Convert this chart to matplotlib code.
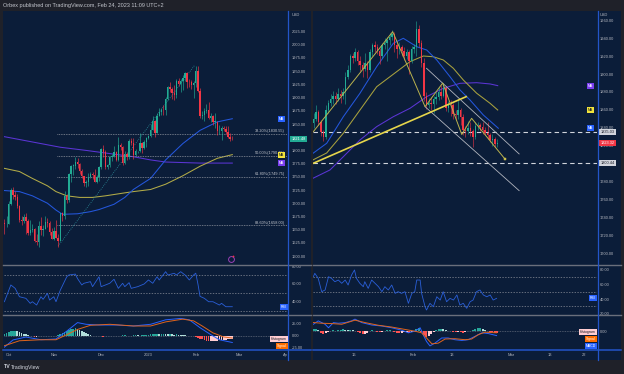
import numpy as np
import matplotlib
matplotlib.use('Agg')
import matplotlib.pyplot as plt
from matplotlib.transforms import blended_transform_factory, offset_copy
from matplotlib.patches import Rectangle
from matplotlib.lines import Line2D

plt.rcParams['font.family'] = ['Liberation Sans', 'DejaVu Sans']

# ============================ DATA ============================
# ---- Left panel: XAUUSD daily (bar index 0 = 3 Oct 2022, -2 = 29 Sep 2022)
left_open_first = 1662
left_close = [1660, 1661,
              1699, 1725, 1716, 1712, 1695, 1668, 1666, 1673, 1666, 1644, 1650, 1652, 1629, 1627, 1657, 1649, 1652, 1665, 1663, 1645, 1633,
              1647, 1635, 1629, 1681, 1676, 1713, 1706, 1755, 1771, 1771, 1778, 1774, 1761, 1751, 1738, 1740, 1749, 1755, 1754, 1741, 1749, 1768,
              1803, 1797, 1768, 1772, 1788, 1789, 1797, 1781, 1810, 1807, 1777, 1793, 1787, 1817, 1814, 1792, 1798, 1798, 1814, 1804, 1815, 1824,
              1828, 1839, 1855, 1833, 1865, 1872, 1877, 1876, 1897, 1920, 1916, 1908, 1904, 1932, 1926, 1931, 1937, 1946, 1930, 1929, 1923, 1928,
              1951, 1912, 1865, 1867, 1874, 1876, 1861, 1865, 1854, 1854, 1836, 1836, 1842, 1841, 1834, 1825, 1822, 1821.48]
left_high = [1671, 1676,
             1705, 1729, 1731, 1723, 1718, 1697, 1675, 1679, 1682, 1671, 1668, 1661, 1653, 1641, 1667, 1674, 1658, 1675, 1672, 1666, 1654,
             1655, 1669, 1642, 1682, 1684, 1723, 1717, 1757, 1773, 1774, 1787, 1786, 1776, 1764, 1752, 1744, 1757, 1759, 1760, 1764, 1753, 1770,
             1805, 1810, 1800, 1775, 1790, 1793, 1808, 1799, 1825, 1814, 1808, 1799, 1797, 1822, 1824, 1823, 1802, 1799, 1833, 1816, 1820, 1826,
             1830, 1850, 1865, 1858, 1870, 1881, 1881, 1886, 1902, 1922, 1929, 1920, 1924, 1935, 1937, 1935, 1942, 1949, 1949, 1936, 1934, 1931,
             1959, 1960, 1919, 1874, 1880, 1888, 1891, 1871, 1868, 1871, 1856, 1848, 1846, 1846, 1846, 1847, 1833, 1828]
left_low = [1641, 1655,
            1660, 1697, 1708, 1707, 1690, 1664, 1659, 1662, 1642, 1640, 1640, 1645, 1626, 1621, 1617, 1639, 1638, 1652, 1655, 1640, 1632,
            1630, 1635, 1617, 1628, 1667, 1671, 1701, 1702, 1741, 1754, 1765, 1767, 1755, 1747, 1733, 1731, 1733, 1747, 1745, 1740, 1739, 1742,
            1765, 1787, 1764, 1765, 1769, 1780, 1788, 1779, 1779, 1800, 1773, 1775, 1782, 1784, 1811, 1784, 1789, 1796, 1797, 1795, 1803, 1807,
            1821, 1826, 1838, 1825, 1833, 1865, 1867, 1867, 1867, 1895, 1910, 1897, 1896, 1900, 1922, 1911, 1915, 1932, 1918, 1920, 1916, 1900,
            1920, 1910, 1862, 1860, 1856, 1871, 1859, 1853, 1849, 1843, 1830, 1831, 1819, 1836, 1832, 1824, 1818, 1819]
left_month_pos = [0, 21, 43, 65, 87, 107, 128.5]
left_month_labels = ['Oct', 'Nov', 'Dec', '2023', 'Feb', 'Mar', 'Ap']
left_ma_blue = [(-2, 1724), (5, 1722), (11, 1714), (18, 1700), (22, 1687), (25, 1679), (32, 1680), (38, 1684), (42, 1688),
                (49, 1698), (54, 1711), (58, 1726), (66, 1747), (73, 1782), (81, 1813), (89, 1838), (97, 1854), (104, 1860)]
left_ma_yellow = [(-2, 1766), (5, 1760), (11, 1747), (18, 1733), (22, 1722), (27, 1714), (33, 1711), (39, 1711), (45, 1714),
                  (53, 1719), (58, 1722), (66, 1726), (73, 1736), (81, 1752), (89, 1770), (97, 1785), (104, 1792)]
left_ma_purple = [(-2, 1826), (11, 1816), (24, 1806), (36, 1800), (47, 1794), (58, 1788), (66, 1782), (73, 1778), (89, 1776), (104, 1776)]
fib_levels = [1830.55, 1790.15, 1749.75, 1658.00]
fib_labels = ['38.20%(1830.55)', '50.00%(1790.15)', '61.80%(1749.75)', '88.60%(1658.00)']
fib_start = 22.5
fib_diag = [(23, 1618.95), (86.5, 1961.35)]
left_rsi = [(-2, 40), (1, 58.8), (3, 55), (5, 45.6), (8, 43.8), (10, 38.2), (11, 40), (13, 36.3), (15, 45.6), (16, 42.7),
            (18, 49.4), (19, 41.9), (21, 45.6), (22, 40), (24, 53), (27, 68), (28, 70), (31, 71), (32, 66), (34, 58.8),
            (35, 60.7), (38, 62.5), (39, 56.9), (42, 68), (43, 56.9), (45, 58.8), (47, 60.7), (49, 65.2), (51, 55), (53, 60.7),
            (54, 56.9), (56, 61.4), (57, 55), (60, 56.9), (63, 59.9), (65, 64.4), (67, 60.7), (69, 68), (70, 64.4), (73, 73.7),
            (74, 70), (77, 71.9), (78, 70), (80, 73.7), (82, 70), (84, 64.4), (86, 70), (87, 72), (88, 60), (89, 46),
            (91, 43.8), (93, 40), (95, 40), (98, 36.3), (99, 38.2), (101, 34.4), (104, 34.4)]
left_macd = [(-2, -24), (2, -9), (8, -3), (15, -8.6), (22, -7), (27, 9.3), (32, 27), (36, 23.5), (42, 22), (50, 22), (58, 20),
             (66, 23.5), (73, 32.8), (80, 35.7), (84, 32.8), (89, 16.4), (94, 2), (98, -8.6), (104, -14.3)]
left_signal = [(-2, -21), (5, -10.7), (15, -8.6), (22, -8.6), (27, 2), (32, 12.8), (38, 21.4), (47, 23.5), (58, 20), (66, 20),
               (73, 28.5), (81, 34.2), (86, 30.6), (90, 20), (95, 5.7), (100, -2.8), (104, -5)]
left_hist = [3, 5, 7, 9, 10, 10, 9, 7, 6, 4, 3, 1,
             -1, -1.5, -2, -2, -1.5, -1, -1, -0.5, -1, -1, -1.5, -1, -0.5,
             1, 3, 5, 7, 9, 11, 13, 14, 15, 13, 11, 9, 7, 5, 3, 1,
             -0.5, -1, -1.5, -1, -1.5, -2, -1.5, -1, -1, -0.5, -1, -1.5, -1, -0.5, 0.5, 0.5, -0.5, -1, -0.5, 0.5, 1, 0.5, -0.5, 0.5,
             1, 1.5, 2, 2.5, 3, 3, 3.5, 3, 3.5, 4, 3.5, 3, 3, 2.5, 2, 2.5, 2, 1.5, 1, 0.5,
             -0.5, -0.5, -1, -1.5, -2, -4, -6, -8, -9.5, -11, -12, -12, -11.5, -11, -10.5, -10, -9.5, -9, -8.5, -8, -7.5, -7]

# ---- Right panel: XAUUSD intraday (x in trading days, 0 = 16 Jan 2023), half-day bars
right_open_first = 1845
right_close = [1850, 1858, 1846, 1835, 1830, 1860, 1868, 1872, 1876, 1872,
               1878, 1875, 1880, 1897, 1905, 1920, 1918, 1925, 1915, 1910,
               1906, 1912, 1905, 1925, 1932, 1930, 1926, 1920, 1932, 1935,
               1938, 1942, 1945, 1932, 1928, 1930, 1926, 1920, 1925, 1915,
               1928, 1930, 1950, 1935, 1912, 1875, 1865, 1868, 1867, 1872,
               1874, 1880, 1876, 1885, 1862, 1866, 1865, 1855, 1854, 1860,
               1852, 1838, 1836, 1840, 1836, 1830, 1842, 1843, 1841, 1838,
               1834, 1832, 1826, 1828, 1822, 1823.32]
right_high = [1856, 1866, 1860, 1849, 1838, 1865, 1871, 1878, 1881, 1880,
              1884, 1882, 1884, 1902, 1910, 1922, 1924, 1929, 1927, 1920,
              1914, 1924, 1915, 1928, 1935, 1937, 1934, 1929, 1935, 1940,
              1942, 1946, 1949, 1947, 1936, 1936, 1933, 1930, 1928, 1927,
              1931, 1934, 1959, 1955, 1938, 1918, 1880, 1873, 1874, 1876,
              1880, 1886, 1888, 1890, 1887, 1870, 1871, 1868, 1860, 1871,
              1862, 1855, 1842, 1848, 1846, 1839, 1846, 1846, 1845, 1846,
              1841, 1847, 1834, 1833, 1830, 1828]
right_low = [1840, 1848, 1843, 1831, 1825, 1828, 1856, 1864, 1867, 1867,
             1870, 1868, 1872, 1867, 1895, 1902, 1912, 1915, 1910, 1904,
             1897, 1903, 1896, 1902, 1920, 1925, 1922, 1911, 1918, 1928,
             1915, 1932, 1938, 1925, 1918, 1922, 1920, 1916, 1917, 1900,
             1912, 1924, 1920, 1930, 1908, 1870, 1861, 1862, 1860, 1856,
             1867, 1871, 1872, 1874, 1859, 1858, 1853, 1850, 1849, 1850,
             1843, 1832, 1830, 1833, 1831, 1819, 1828, 1838, 1836, 1833,
             1832, 1828, 1824, 1820, 1818, 1819]
right_first_day = -8.25
right_tick_pos = [0, 12, 20, 32, 40, 47]
right_tick_labels = ['16', 'Feb', '13', 'Mar', '13', '22']
right_ma_blue = [(-8.37, 1811.5), (-5.57, 1822.7), (-2.18, 1852.4), (1.22, 1878.6), (4.63, 1908.3), (8.02, 1934.4),
                 (10.06, 1940.0), (12.8, 1930.6), (14.84, 1926.9), (16.88, 1915.8), (19.59, 1897.1), (21.63, 1882.3),
                 (23.67, 1871.1), (26.39, 1854.3), (29.45, 1839.5)]
right_ma_yellow = [(-8.37, 1804.1), (-5.57, 1811.9), (-2.18, 1833.9), (1.22, 1859.9), (4.63, 1885.9), (8.71, 1902.7),
                   (11.43, 1913.9), (14.14, 1920.2), (16.18, 1919.4), (18.22, 1915.8), (20.27, 1906.5), (22.31, 1893.4),
                   (25.04, 1878.6), (27.76, 1867.4), (29.33, 1859.9)]
right_ma_purple = [(-8.37, 1783.6), (-4.9, 1792.9), (-2.18, 1807.7), (1.22, 1826.4), (4.63, 1841.3), (8.02, 1852.4),
                   (11.43, 1861.8), (14.84, 1874.8), (18.22, 1884.1), (21.63, 1889.7), (25.04, 1890.4), (27.76, 1889.0),
                   (29.33, 1887.1)]
zigzag = [(-8.3, 1835.7), (7.9, 1947.4), (14.5, 1863.6), (18.1, 1890.0), (22.0, 1832.5), (24.0, 1850.6), (30.8, 1805.2)]
trendline = [(-8.3, 1800.4), (22.9, 1874.8)]
channel_upper = [(14.8, 1906.5), (33.7, 1810.8)]
channel_lower = [(14.5, 1863.6), (33.7, 1769.8)]
right_levels = [1835.03, 1800.44]
right_rsi = [(-8.3, 70.4), (-8, 75), (-7.3, 68.2), (-6.6, 50), (-5.9, 52.3), (-5.2, 70.4), (-4.6, 68.2), (-3.9, 63.6),
             (-3.2, 65.9), (-2.5, 61.4), (-1.8, 65.9), (-1.2, 59.1), (-0.5, 72.7), (0.1, 79.6), (0.5, 68.2), (1.2, 61.4),
             (1.9, 56.8), (2.2, 63.6), (2.9, 54.5), (3.6, 65.9), (4.3, 61.4), (5, 56.8), (5.7, 50), (6.3, 56.8), (7, 52.3),
             (7.7, 59.1), (8.4, 47.7), (9, 50), (9.7, 47.7), (10.4, 50), (11.1, 34.1), (11.8, 47.7), (12.4, 50), (12.8, 65.9),
             (13.5, 65.9), (13.8, 47.7), (14.5, 29.5), (14.8, 25), (15.5, 34.1), (16.2, 29.5), (16.9, 43.1), (17.6, 38.6),
             (18.2, 50), (18.9, 36.3), (19.6, 40.9), (20.3, 38.6), (21, 45.5), (21.6, 31.8), (22.3, 34.1), (23, 27.3),
             (23.7, 36.3), (24.3, 38.6), (25, 50), (25.7, 52.3), (26.4, 45.5), (27.1, 43.1), (27.8, 45.5), (28.4, 38.6),
             (29.1, 40.9)]
right_macd = [(-8.3, 6.7), (-7.3, 10), (-5.9, 6.7), (-5.2, 3.3), (-4.2, 8.3), (-3.2, 7.7), (-1.8, 8.3), (-0.5, 10),
              (0.2, 11.7), (1.6, 8.3), (3.6, 6), (5.7, 5), (7.7, 3.3), (9.7, 1), (11.1, -1.6), (12.4, 0), (13.5, 3.3),
              (14.1, -3.3), (14.8, -10), (15.5, -14.3), (16.5, -11.6), (17.9, -6.6), (19.2, -6.6), (20.6, -8.3), (22, -9),
              (23.3, -8.3), (24.7, -5), (26.1, -1.6), (27.4, -2.3), (29.1, -4.3)]
right_signal = [(-8.3, 8.4), (-6.6, 7.7), (-4.6, 7.4), (-2.5, 6.7), (0.2, 10.7), (2.2, 8.4), (5, 5.7), (7.7, 4),
                (10.4, 1.7), (12.4, 0), (13.8, -1.6), (14.8, -6.6), (15.9, -12.3), (17.2, -11.6), (18.6, -7.6),
                (20.6, -7.3), (22.7, -8.3), (24, -7.6), (25.4, -3.3), (26.7, -1), (29.1, -1.6)]
right_hist = [2, 2.5, 1, -1.5, -3, -2, -1, 0.5, 1, 0.5,
              1, 1.5, 2, 1.5, 1, 1.5, 1, 0.5, -1, -2,
              -3, -2.5, -1.5, 0.5, 1, 0.5, -0.5, -1, -0.5, 0.5,
              1, 1, 0.5, -1, -1.5, -2, -1.5, -1, -1, -2,
              -1, 0, 2, 3, -1, -4, -6, -5, -3, -1,
              1, 2, 2.5, 2, 1, 0.5, 0.5, -0.5, -1, -0.5,
              -1, -1.5, -1, 0, 0.5, 1, 2, 3, 3, 2,
              1, 0.5, -0.5, -1, -1.5, -2]

# ============================ STYLE ============================
W, H = 624, 374
BG = '#1f2129'
NAVY = '#0b1d39'
TXT = '#b2b5be'
UP = '#22ab94'
DN = '#f23645'
SEP = '#6a6f7c'
AXBLUE = '#2355c9'
FS = 2.9

fig = plt.figure(figsize=(W / 100, H / 100), dpi=100)
fig.patch.set_facecolor(BG)


def frect(x0, y0, x1, y1, color, z=-1):
    fig.add_artist(Rectangle((x0 / W, 1 - y1 / H), (x1 - x0) / W, (y1 - y0) / H,
                             transform=fig.transFigure, fc=color, ec='none', zorder=z))


def fline(x0, y0, x1, y1, color, lw, z=5):
    fig.add_artist(Line2D([x0 / W, x1 / W], [1 - y0 / H, 1 - y1 / H], transform=fig.transFigure,
                          color=color, lw=lw, zorder=z))


def px_axes(x0, y0, x1, y1):
    ax = fig.add_axes([x0 / W, 1 - y1 / H, (x1 - x0) / W, (y1 - y0) / H])
    ax.set_facecolor(NAVY)
    for s in ax.spines.values():
        s.set_visible(False)
    ax.tick_params(left=False, bottom=False, right=False, top=False, labelleft=False, labelbottom=False)
    return ax


def yscale(ax, ticks, fmt, pad):
    ax.yaxis.set_ticks_position('right')
    ax.set_yticks(ticks)
    ax.set_yticklabels([fmt.format(t) for t in ticks])
    ax.tick_params(axis='y', right=False, labelright=True, length=0, pad=pad, labelsize=FS, labelcolor=TXT)


def candles(ax, x, first_open, c, h, l, w, lw):
    c = np.asarray(c, float)
    o = np.concatenate([[first_open], c[:-1]])
    h = np.asarray(h, float)
    l = np.asarray(l, float)
    col = np.where(c >= o, UP, DN)
    ax.vlines(x, l, h, colors=col, lw=lw, zorder=3)
    ax.bar(x, np.maximum(np.abs(c - o), 0.8), bottom=np.minimum(o, c), width=w, color=col, lw=0, zorder=3)


def hist_colors(v):
    cols, prev = [], 0.0
    for val in v:
        if val >= 0:
            cols.append('#26a69a' if val >= prev else '#b2dfdb')
        else:
            cols.append('#ff5252' if val < prev else '#ffcdd2')
        prev = val
    return cols


def pline(ax, pairs, **kw):
    a = np.array(pairs, float)
    ax.plot(a[:, 0], a[:, 1], **kw)


def scale_tag(ax, xpx, y, text, fc, tc, ha='center', size=2.5):
    tr = blended_transform_factory(fig.transFigure, ax.transData)
    ax.text(xpx / W, y, text, transform=tr, ha=ha, va='center', fontsize=size, color=tc,
            bbox=dict(boxstyle='square,pad=0.3', fc=fc, ec='none'), clip_on=False, zorder=10)


def fig_tag(xpx, ypx, text, fc, tc, ha='right', size=2.5):
    fig.text(xpx / W, 1 - ypx / H, text, ha=ha, va='center', fontsize=size, color=tc,
             bbox=dict(boxstyle='square,pad=0.3', fc=fc, ec='none'), zorder=10)


# panel backgrounds
frect(3, 10.5, 311, 360, NAVY)
frect(313, 10.5, 621, 360, NAVY)

# ============================ LEFT PANEL ============================
LX0, LX1 = 4, 287
lxlim = ((LX0 - 8.7) / 2.15, (LX1 - 8.7) / 2.15)
axL = px_axes(LX0, 11, LX1, 265)
axLr = px_axes(LX0, 265, LX1, 315)
axLm = px_axes(LX0, 315, LX1, 349)
for a in (axL, axLr, axLm):
    a.set_xlim(*lxlim)

lx = np.arange(len(left_close)) - 2
axL.set_ylim(1583, 2064)
candles(axL, lx, left_open_first, left_close, left_high, left_low, 0.62, 0.45)
pline(axL, left_ma_purple, color='#5b35d5', lw=0.75, zorder=2)
pline(axL, left_ma_yellow, color='#b3ac48', lw=0.75, zorder=2)
pline(axL, left_ma_blue, color='#2457dd', lw=0.75, zorder=2)
for lev, lab in zip(fib_levels, fib_labels):
    axL.hlines(lev, fib_start, lxlim[1], colors='#a3a6ae', lw=0.55, linestyles=(0, (1, 1.2)), zorder=2)
    tr = offset_copy(blended_transform_factory(fig.transFigure, axL.transData), fig=fig, y=0.6, units='points')
    axL.text(285 / W, lev, lab, transform=tr, ha='right', va='bottom', fontsize=2.8, color='#c5c8cf', zorder=4)
pline(axL, fib_diag, color='#2b8c99', lw=0.6, ls=(0, (1, 1.5)), zorder=2)
lticks = [t for t in range(1600, 2050, 25) if t != 1825]
yscale(axL, lticks, '{:.2f}', 3.6)
axL.text(292 / W, 1 - 15 / H, 'USD', transform=fig.transFigure, fontsize=FS, color=TXT, va='center')
axL.plot([0.802], [0.024], transform=axL.transAxes, marker='o', ms=4.2, mfc='none', mec='#9c3fb8', mew=0.7, zorder=5)
axL.plot([0.808], [0.034], transform=axL.transAxes, marker='o', ms=1.3, mfc='#f23645', mec='none', zorder=6)
scale_tag(axL, 281.7, left_ma_blue[-1][1], 'MA', '#2962ff', 'white')
scale_tag(axL, 281.7, left_ma_yellow[-1][1], 'MA', '#f2e33b', '#131722')
scale_tag(axL, 281.7, left_ma_purple[-1][1], 'MA', '#7b3ff0', 'white')
scale_tag(axL, 298.5, left_close[-1], '{:.2f}'.format(left_close[-1]), UP, 'white', size=2.8)

# RSI
axLr.set_ylim(25.1, 81.2)
for lv in (70, 50, 30):
    axLr.axhline(lv, color='#8a8e99', lw=0.5, ls=(0, (2, 2)), zorder=1)
pline(axLr, left_rsi, color='#2a5fd8', lw=0.6, zorder=3)
yscale(axLr, [40, 60, 80], '{:.2f}', 3.6)
scale_tag(axLr, 286.5, left_rsi[-1][1], 'RSI', '#2962ff', 'white', ha='right')

# MACD
axLm.set_ylim(-27.8, 42.8)
axLm.axhline(0, color='#8a8e99', lw=0.4, ls=(0, (1.5, 1.5)), zorder=1)
axLm.bar(lx, left_hist, width=0.75, color=hist_colors(left_hist), lw=0, zorder=2)
pline(axLm, left_macd, color='#2962ff', lw=0.7, zorder=3)
pline(axLm, left_signal, color='#e0641c', lw=0.7, zorder=3)
yscale(axLm, [-25, 0, 25], '{:.2f}', 3.6)
axLm.set_xticks(left_month_pos)
axLm.set_xticklabels(left_month_labels)
axLm.tick_params(axis='x', bottom=False, labelbottom=True, length=0, pad=2.6, labelsize=FS, labelcolor=TXT)
fig_tag(286.5, 339, 'Histogram', '#ffcdd2', '#131722')
fig_tag(286.5, 346, 'Signal', '#ff6d00', 'white')

# ============================ RIGHT PANEL ============================
RX0, RX1 = 313, 597
rxlim = ((RX0 - 354) / 4.9, (RX1 - 354) / 4.9)
axR = px_axes(RX0, 11, RX1, 265)
axRr = px_axes(RX0, 265, RX1, 315)
axRm = px_axes(RX0, 315, RX1, 349)
for a in (axR, axRr, axRm):
    a.set_xlim(*rxlim)

rx = right_first_day + 0.5 * np.arange(len(right_close))
axR.set_ylim(1686.7, 1970.5)
for lev in right_levels:
    axR.axhline(lev, color='#d1d4dc', lw=0.8, ls=(0, (4, 3)), zorder=2)
pline(axR, right_ma_purple, color='#5b35d5', lw=0.75, zorder=2)
pline(axR, right_ma_yellow, color='#a9a23e', lw=0.75, zorder=2)
pline(axR, right_ma_blue, color='#2457dd', lw=0.75, zorder=2)
candles(axR, rx, right_open_first, right_close, right_high, right_low, 0.3, 0.4)
pline(axR, channel_upper, color='#b2b5be', lw=0.6, zorder=4)
pline(axR, channel_lower, color='#b2b5be', lw=0.6, zorder=4)
pline(axR, trendline, color='#e5d54b', lw=1.2, zorder=4)
pline(axR, zigzag, color='#bbb34e', lw=0.7, zorder=4)
axR.plot([zigzag[-1][0]], [zigzag[-1][1]], marker='s', ms=1.8, mfc='#bbb34e', mec='#e5d54b', mew=0.3, zorder=5)
yscale(axR, list(range(1700, 1961, 20)), '{:.2f}', 2.2)
axR.text(600 / W, 1 - 15 / H, 'USD', transform=fig.transFigure, fontsize=FS, color=TXT, va='center')
scale_tag(axR, 590.5, right_ma_purple[-1][1], 'MA', '#7b3ff0', 'white')
scale_tag(axR, 590.5, right_ma_yellow[-1][1], 'MA', '#f2e33b', '#131722')
scale_tag(axR, 590.5, right_ma_blue[-1][1], 'MA', '#2962ff', 'white')
scale_tag(axR, 607.5, right_levels[0], '{:.2f}'.format(right_levels[0]), '#d1d4dc', '#131722', size=2.8)
scale_tag(axR, 607.5, right_close[-1], '{:.2f}'.format(right_close[-1]), DN, 'white', size=2.8)
scale_tag(axR, 607.5, right_levels[1], '{:.2f}'.format(right_levels[1]), '#d1d4dc', '#131722', size=2.8)

# RSI
axRr.set_ylim(18.2, 86.4)
for lv in (70, 50, 30):
    axRr.axhline(lv, color='#8a8e99', lw=0.5, ls=(0, (2, 2)), zorder=1)
pline(axRr, right_rsi, color='#2a5fd8', lw=0.6, zorder=3)
yscale(axRr, [20, 40, 60, 80], '{:.2f}', 2.2)
scale_tag(axRr, 596, right_rsi[-1][1], 'RSI', '#2962ff', 'white', ha='right')

# MACD
axRm.set_ylim(-17.3, 15.7)
axRm.axhline(0, color='#8a8e99', lw=0.4, ls=(0, (1.5, 1.5)), zorder=1)
axRm.bar(rx, right_hist, width=0.4, color=hist_colors(right_hist), lw=0, zorder=2)
pline(axRm, right_macd, color='#2962ff', lw=0.7, zorder=3)
pline(axRm, right_signal, color='#e0641c', lw=0.7, zorder=3)
yscale(axRm, [0], '{:.2f}', 2.2)
axRm.set_xticks(right_tick_pos)
axRm.set_xticklabels(right_tick_labels)
axRm.tick_params(axis='x', bottom=False, labelbottom=True, length=0, pad=2.6, labelsize=FS, labelcolor=TXT)
fig_tag(596, 332, 'Histogram', '#ffcdd2', '#131722')
fig_tag(596, 339, 'Signal', '#ff6d00', 'white')
fig_tag(596, 346, 'MACD', '#2962ff', 'white')

# ============================ FRAME LINES / TEXT ============================
for (x0, x1, xs) in ((3, 311, 287.5), (313, 621, 597.5)):
    fline(x0, 265, x1, 265, SEP, 1.0)
    fline(x0, 315, x1, 315, SEP, 1.0)
    fline(x0, 349.5, x1, 349.5, AXBLUE, 1.1)
    fline(xs, 10.5, xs, 360, AXBLUE, 0.9)

fig.text(3 / W, 1 - 5.5 / H, 'Orbex published on TradingView.com, Feb 24, 2023 11:09 UTC+2',
         fontsize=4.0, color='#c3c6cd', va='center', ha='left')
fig.text(3.5 / W, 1 - 367 / H, 'TV', fontsize=3.8, color='#d1d4dc', va='center', ha='left', weight='bold')
fig.text(10.5 / W, 1 - 367 / H, 'TradingView', fontsize=3.8, color='#d1d4dc', va='center', ha='left')

fig.savefig('out.png', dpi=100, facecolor=BG)
